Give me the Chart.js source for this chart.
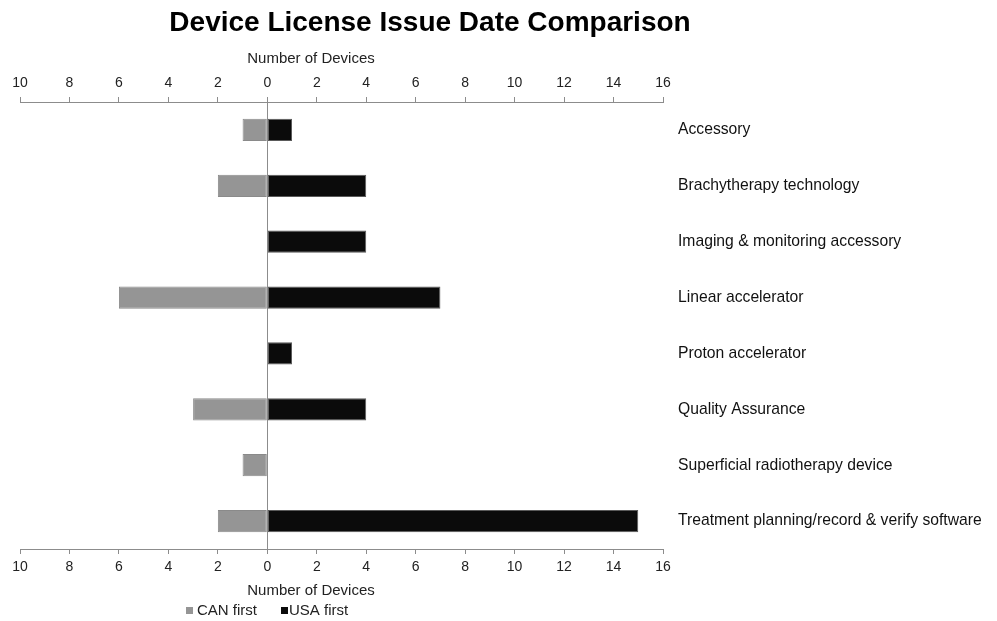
<!DOCTYPE html>
<html>
<head>
<meta charset="utf-8">
<script src="https://cdn.jsdelivr.net/npm/chart.js@4.4.0/dist/chart.umd.min.js"></script>
<style>
    body { margin: 0; background: #fff; }
    #wrap { width: 997px; height: 621px; position: relative; }
</style>
</head>
<body>
<div id="wrap"><canvas id="licenseChart" width="997" height="621"></canvas></div>
<script>
// device categories, top to bottom
const categories = [
    'Accessory',
    'Brachytherapy technology',
    'Imaging & monitoring accessory',
    'Linear accelerator',
    'Proton accelerator',
    'Quality Assurance',
    'Superficial radiotherapy device',
    'Treatment planning/record & verify software',
];
const canFirst = [1, 2, 0, 6, 0, 3, 1, 2];
const usaFirst = [1, 4, 4, 7, 1, 4, 0, 15];
const xTicks = [-10, -8, -6, -4, -2, 0, 2, 4, 6, 8, 10, 12, 14, 16];

const FONT = 'Liberation Sans, Arial, sans-serif';
const AXIS_GREY = '#8c8c8c';

// titles + legend drawn by hand so they sit where the original has them
const extraText = {
    id: 'extraText',
    afterDraw(chart) {
        const c = chart.ctx;
        c.save();
        c.fillStyle = '#000';
        c.textBaseline = 'middle';
        c.textAlign = 'center';
        c.font = 'bold 28px ' + FONT;
        c.fillText('Device License Issue Date Comparison', 430, 23);

        c.font = '15px ' + FONT;
        c.fillStyle = '#222';
        c.fillText('Number of Devices', 311, 59);
        c.fillText('Number of Devices', 311, 591);

        // legend
        c.textAlign = 'left';
        c.fillStyle = '#959595';
        c.fillRect(186, 607, 7, 7);
        c.fillStyle = '#222';
        c.fillText('CAN first', 197, 611);
        c.fillStyle = '#0b0b0b';
        c.fillRect(281, 607, 7, 7);
        c.fillStyle = '#222';
        c.fillText('USA first', 289, 611);
        c.restore();
    },
};

const xScaleBase = {
    type: 'linear',
    min: -10,
    max: 16,
    afterBuildTicks: (scale) => {
        scale.ticks = xTicks.map((v) => ({ value: v }));
    },
    ticks: {
        color: '#222',
        font: { family: FONT, size: 14 },
        padding: 5,
        maxRotation: 0,
        callback: (value) => Math.abs(value),
    },
    grid: {
        drawOnChartArea: false,
        tickLength: 5,
        tickColor: AXIS_GREY,
    },
    border: { color: AXIS_GREY, width: 1 },
};

new Chart(document.getElementById('licenseChart'), {
    type: 'bar',
    data: {
        labels: categories,
        datasets: [
            {
                label: 'CAN first',
                data: canFirst.map((v) => -v),
                backgroundColor: '#959595',
                borderColor: '#8a8a8a',
                borderWidth: 1,
                borderSkipped: false,
            },
            {
                label: 'USA first',
                data: usaFirst,
                backgroundColor: '#0b0b0b',
                borderColor: '#5a5a5a',
                borderWidth: 1,
                borderSkipped: false,
            },
        ],
    },
    options: {
        indexAxis: 'y',
        responsive: false,
        animation: false,
        categoryPercentage: 1,
        barPercentage: 0.4,
        layout: { padding: { left: 20, top: 70, right: 0, bottom: 0 } },
        plugins: {
            legend: { display: false },
            title: { display: false },
            tooltip: { enabled: false },
        },
        scales: {
            x: {
                ...xScaleBase,
                position: 'bottom',
                stacked: true,
                afterFit: (scale) => { scale.height = 72; },
            },
            x2: {
                ...xScaleBase,
                position: 'top',
                afterFit: (scale) => { scale.height = 32; },
            },
            zero: {
                // just the vertical line at 0
                type: 'linear',
                axis: 'x',
                position: 'bottom',
                min: -10,
                max: 16,
                display: true,
                afterBuildTicks: (scale) => { scale.ticks = [{ value: 0 }]; },
                afterFit: (scale) => { scale.height = 0; },
                ticks: { display: false },
                grid: { color: AXIS_GREY, drawTicks: false, lineWidth: 1 },
                border: { display: false },
            },
            y: {
                position: 'right',
                stacked: true,
                afterFit: (scale) => { scale.width = 334; },
                ticks: {
                    color: '#111',
                    font: { family: FONT, size: 15.7 },
                    padding: 7,
                },
                grid: { display: false },
                border: { display: false },
            },
        },
    },
    plugins: [extraText],
});
</script>
</body>
</html>
